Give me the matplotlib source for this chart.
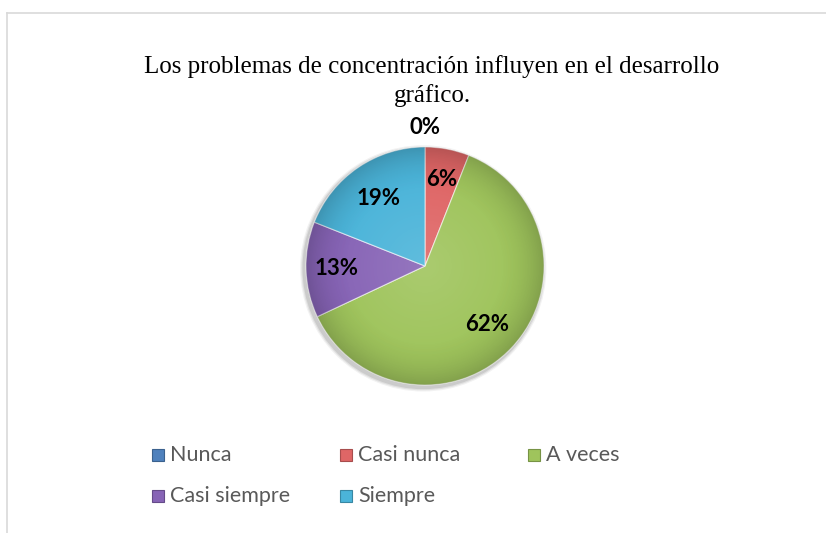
import numpy as np
import matplotlib.pyplot as plt
from matplotlib.patches import Rectangle, Circle
from matplotlib.lines import Line2D
import matplotlib.colors as mcolors

# datos
categorias = ['Nunca', 'Casi nunca', 'A veces', 'Casi siempre', 'Siempre']
porcentajes = [0, 6, 62, 13, 19]
colores = ['#4F81BD', '#DF6666', '#9FC45C', '#8764B6', '#4BB4D9']
titulo = 'Los problemas de concentración influyen en el desarrollo\ngráfico.'

W, H = 826, 533
fig = plt.figure(figsize=(W / 100, H / 100), dpi=100)

# marco del grafico (solo se ve izquierda y arriba)
fig.add_artist(Line2D([7 / W, 7 / W], [0, 1 - 13 / H], color='#D9D9D9', lw=1.2))
fig.add_artist(Line2D([7 / W, 1], [1 - 13 / H, 1 - 13 / H], color='#D9D9D9', lw=1.2))

fig.text(432 / W, 1 - 81 / H, titulo, ha='center', va='center',
         family='Liberation Serif', fontsize=18, linespacing=1.3)

# pastel
cx, cy, r = 425, 266, 119
ax = fig.add_axes([(cx - r) / W, (H - cy - r) / H, 2 * r / W, 2 * r / H])

# sombra suave
for k, a in zip([1.035, 1.025, 1.015], [0.05, 0.07, 0.09]):
    ax.add_patch(Circle((-0.015, -0.02), k, color='black', alpha=a,
                        lw=0, zorder=0, clip_on=False))

wedges, _ = ax.pie(porcentajes, colors=colores, startangle=90, counterclock=False,
                   wedgeprops=dict(edgecolor=(1, 1, 1, 0.6), linewidth=0.8))
for w in wedges:
    w.set_zorder(2)

# degradado radial (estilo Excel 2007)
yy, xx = np.mgrid[-1:1:400j, -1:1:400j]
rr = np.hypot(xx, yy)
sombra = np.zeros((400, 400, 4))
sombra[..., 3] = np.clip((rr - 0.6) / 0.4, 0, 1) ** 2 * 0.18
im = ax.imshow(sombra, extent=(-1, 1, -1, 1), zorder=3, interpolation='bilinear')
im.set_clip_path(Circle((0, 0), 1, transform=ax.transData))
brillo = np.ones((400, 400, 4))
brillo[..., 3] = np.clip(1 - rr / 0.8, 0, 1) * 0.12
im2 = ax.imshow(brillo, extent=(-1, 1, -1, 1), zorder=3, interpolation='bilinear')
im2.set_clip_path(Circle((0, 0), 1, transform=ax.transData))

ax.set_xlim(-1, 1)
ax.set_ylim(-1, 1)
ax.axis('off')

# etiquetas de porcentaje
distancias = [1.16, 0.74, 0.72, 0.74, 0.69]
for w, p, d in zip(wedges, porcentajes, distancias):
    ang = np.deg2rad((w.theta1 + w.theta2) / 2)
    ax.text(d * np.cos(ang), d * np.sin(ang), f'{p}%', ha='center', va='center',
            fontsize=16, fontweight='bold', family='Lato', color='black', zorder=5)

# leyenda
leg_x = [152, 340, 528]
leg_y = [455, 496]
for i, (cat, col) in enumerate(zip(categorias, colores)):
    fila, columna = divmod(i, 3)
    x, y = leg_x[columna], leg_y[fila]
    borde = tuple(c * 0.75 for c in mcolors.to_rgb(col))
    fig.add_artist(Rectangle((x / W, 1 - (y + 6) / H), 12 / W, 12 / H,
                             facecolor=col, edgecolor=borde, lw=0.8))
    fig.text((x + 18) / W, 1 - y / H, cat, ha='left', va='center',
             fontsize=15.5, color='#595959', family='Lato')

fig.savefig('out.png', dpi=100)
